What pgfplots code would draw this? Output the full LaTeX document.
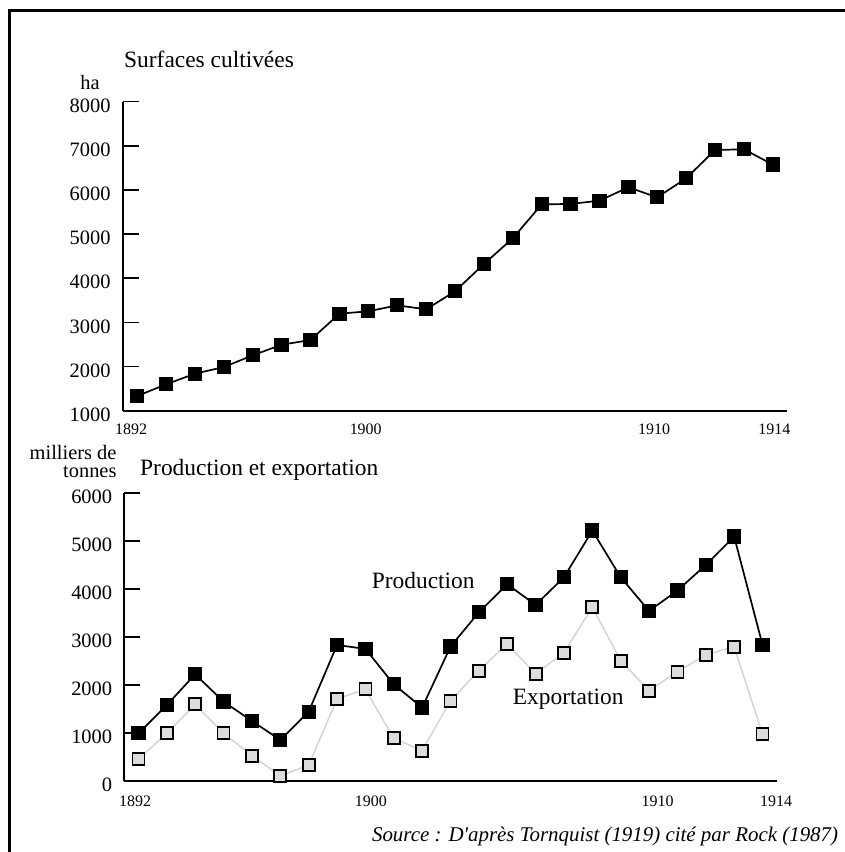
\documentclass[border=0pt]{standalone}
\usepackage{fontspec}
\setmainfont{Liberation Serif}
\usepackage{pgfplots}
\pgfplotsset{compat=1.18}
\definecolor{expfill}{RGB}{220,220,220}
\definecolor{expline}{RGB}{212,212,212}
\newcommand{\fs}[1]{\fontsize{#1}{#1}\selectfont}
\begin{document}
\begin{tikzpicture}[x=1bp,y=1bp]
\useasboundingbox (0,0) rectangle (845,852);
\draw[line width=2.5bp] (9.5,0) -- (9.5,841.5) -- (846,841.5);
\pgfplotsset{
  common/.style={
    scale only axis, clip=false,
    axis x line=bottom, axis y line=left,
    axis line style={-, line width=2bp},
    tick align=inside,
    major tick length=16bp, minor tick length=7bp,
    every tick/.style={black, line width=1.6bp},
    xtick style={draw=none},
    minor xtick={1891.5,1892.5,1893.5,1894.5,1895.5,1896.5,1897.5,1898.5,1899.5,1900.5,1901.5,1902.5,1903.5,1904.5,1905.5,1906.5,1907.5,1908.5,1909.5,1910.5,1911.5,1912.5,1913.5,1914.5},
    xmin=1891.5, xmax=1914.5,
    xticklabels={{\fs{16}1892},{\fs{16}1900},{\fs{16}1910},{\fs{16}1914}},
    xticklabel style={font=\fs{16}, anchor=base, inner sep=0pt},
    yticklabel style={font=\fs{20.5}, anchor=east, inner sep=0pt, xshift=-12bp, yshift=-4bp},
    /pgf/number format/assume math mode=true,
    /pgf/number format/set thousands separator={},
    anchor=south west,
  },
  prod/.style={black, line width=1.7bp, mark=square*, mark size=6.3bp, mark options={solid, fill=black}},
  expo/.style={expline, line width=1.5bp, mark=square*, mark size=6bp, mark options={solid, fill=expfill, draw=black, line width=1.8bp}},
}
% Top panel
\begin{axis}[common,
  at={(122.7bp,441.3bp)}, width=664.6bp, height=309bp,
  ymin=1000, ymax=8000, ytick={1000,2000,...,8000},
  xtick={1891.79,1899.91,1909.89,1914.05},
  xticklabel style={yshift=-23.6bp},
]
\addplot[prod] coordinates {
(1892,1332)(1893,1597)(1894,1838)(1895,1989)(1896,2254)(1897,2495)(1898,2601)
(1899,3198)(1900,3251)(1901,3387)(1902,3296)(1903,3704)(1904,4323)(1905,4905)
(1906,5675)(1907,5683)(1908,5758)(1909,6060)(1910,5834)(1911,6264)(1912,6906)
(1913,6921)(1914,6574)};
\end{axis}
% Bottom panel
\begin{axis}[common,
  at={(124.3bp,71bp)}, width=652.4bp, height=287.7bp,
  ymin=0, ymax=6000, ytick={0,1000,...,6000},
  xtick={1891.88,1900.19,1910.3,1914.48},
  xticklabel style={yshift=-25.7bp},
]
\addplot[expo] coordinates {
(1892,459)(1893,994)(1894,1599)(1895,994)(1896,529)(1897,104)(1898,334)
(1899,1711)(1900,1912)(1901,890)(1902,633)(1903,1676)(1904,2302)(1905,2858)
(1906,2232)(1907,2677)(1908,3623)(1909,2510)(1910,1885)(1911,2281)(1912,2629)
(1913,2802)(1914,974)};
\addplot[prod] coordinates {
(1892,994)(1893,1586)(1894,2225)(1895,1655)(1896,1252)(1897,855)(1898,1446)
(1899,2837)(1900,2754)(1901,2017)(1902,1530)(1903,2802)(1904,3519)(1905,4103)
(1906,3672)(1907,4249)(1908,5222)(1909,4249)(1910,3547)(1911,3971)(1912,4506)
(1913,5097)(1914,2837)};
\end{axis}
% Texts
\node[anchor=base west, inner sep=0, font=\fs{23.5}] at (124,784) {Surfaces cultivées};
\node[anchor=base, inner sep=0, font=\fs{20.5}] at (90,762) {ha};
\node[anchor=base east, inner sep=0, font=\fs{20.5}] at (116.7,392) {milliers de};
\node[anchor=base east, inner sep=0, font=\fs{20.5}] at (116.7,374) {tonnes};
\node[anchor=base west, inner sep=0, font=\fs{23.5}] at (140,376) {Production et exportation};
\node[anchor=base west, inner sep=0, font=\fs{23.5}] at (371.7,263.7) {Production};
\node[anchor=base west, inner sep=0, font=\fs{23.5}] at (512.7,147) {Exportation};
\node[anchor=base east, inner sep=0, font=\fs{21}\itshape] at (838.3,10.3) {Source : D\textquotesingle après Tornquist (1919) cité par Rock (1987)};
\end{tikzpicture}
\end{document}
